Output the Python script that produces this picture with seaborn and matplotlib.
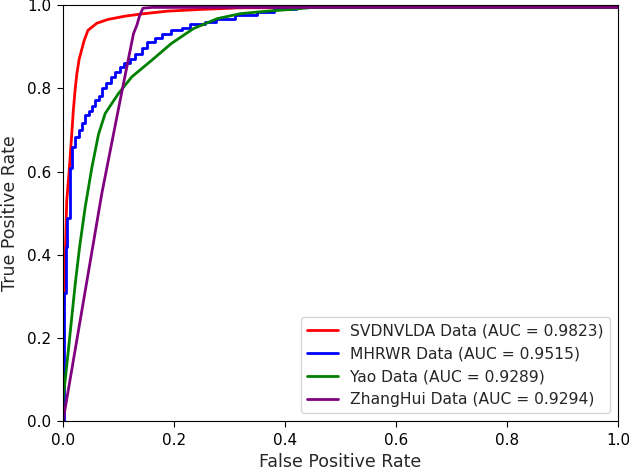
import pandas as pd
import matplotlib
matplotlib.use("Agg")
import matplotlib.pyplot as plt
import seaborn as sns

# --- ROC curve points ---
svd_fpr = [0, 0, 0.0036, 0.0045, 0.0067, 0.011, 0.0157, 0.0186, 0.022, 0.025, 0.029,
           0.038, 0.045, 0.061, 0.081, 0.112, 0.14, 0.188, 0.247, 0.32, 0.5, 1.0]
svd_tpr = [0, 0.235, 0.33, 0.42, 0.53, 0.60, 0.69, 0.748, 0.80, 0.836, 0.87,
           0.915, 0.94, 0.957, 0.966, 0.974, 0.979, 0.986, 0.99, 0.994, 0.995, 0.995]

mhrwr_fpr = [0, 0.002, 0.002, 0.0045, 0.0045, 0.0067, 0.0067, 0.0126, 0.0126, 0.0157, 0.0157,
             0.022, 0.022, 0.028, 0.028, 0.034, 0.034, 0.040, 0.040, 0.046, 0.046, 0.052, 0.052,
             0.058, 0.058, 0.064, 0.064, 0.070, 0.070, 0.078, 0.078, 0.086, 0.086, 0.094, 0.094,
             0.102, 0.102, 0.110, 0.110, 0.120, 0.120, 0.130, 0.130, 0.142, 0.142, 0.152, 0.152,
             0.165, 0.165, 0.178, 0.178, 0.195, 0.195, 0.215, 0.215, 0.228, 0.228, 0.255, 0.255,
             0.275, 0.275, 0.31, 0.31, 0.35, 0.35, 0.38, 0.38, 0.42, 0.42, 1.0]
mhrwr_tpr = [0, 0, 0.308, 0.308, 0.419, 0.419, 0.488, 0.488, 0.608, 0.608, 0.66,
             0.66, 0.683, 0.683, 0.700, 0.700, 0.716, 0.716, 0.735, 0.735, 0.745, 0.745, 0.758,
             0.758, 0.772, 0.772, 0.782, 0.782, 0.800, 0.800, 0.812, 0.812, 0.828, 0.828, 0.840,
             0.840, 0.852, 0.852, 0.862, 0.862, 0.872, 0.872, 0.884, 0.884, 0.898, 0.898, 0.912,
             0.912, 0.922, 0.922, 0.932, 0.932, 0.940, 0.940, 0.946, 0.946, 0.954, 0.954, 0.960,
             0.960, 0.968, 0.968, 0.976, 0.976, 0.984, 0.984, 0.990, 0.990, 0.995, 0.995]

yao_fpr = [0, 0, 0.0096, 0.022, 0.030, 0.040, 0.052, 0.064, 0.076, 0.100, 0.124,
           0.160, 0.195, 0.235, 0.278, 0.320, 0.368, 0.410, 0.45, 1.0]
yao_tpr = [0, 0.05, 0.17, 0.33, 0.42, 0.515, 0.61, 0.69, 0.74, 0.788, 0.828,
           0.868, 0.908, 0.944, 0.968, 0.980, 0.986, 0.990, 0.995, 0.995]

zh_fpr = [0, 0.070, 0.103, 0.127, 0.133, 0.138, 0.144, 0.16, 1.0]
zh_tpr = [0, 0.548, 0.772, 0.932, 0.952, 0.975, 0.993, 0.995, 0.995]

labels = ["SVDNVLDA Data (AUC = 0.9823)", "MHRWR Data (AUC = 0.9515)",
          "Yao Data (AUC = 0.9289)", "ZhangHui Data (AUC = 0.9294)"]
colors = ["red", "blue", "green", "purple"]

# --- Build long-form table ---
frames = []
for lab, fpr, tpr in zip(labels, [svd_fpr, mhrwr_fpr, yao_fpr, zh_fpr],
                         [svd_tpr, mhrwr_tpr, yao_tpr, zh_tpr]):
    frames.append(pd.DataFrame({"fpr": fpr, "tpr": tpr, "model": lab}))
df = pd.concat(frames, ignore_index=True)

sns.set_style("ticks")
plt.rcParams["font.family"] = ["DejaVu Sans"]

fig = plt.figure(figsize=(6.29, 4.71), dpi=100)
ax = fig.add_axes([0.1002, 0.1062, 0.8823, 0.8825])

sns.lineplot(data=df, x="fpr", y="tpr", hue="model", palette=dict(zip(labels, colors)),
             sort=False, estimator=None, units="model", linewidth=2, ax=ax)

ax.set_xlim(0, 1)
ax.set_ylim(0, 1)
ax.set_xticks([0, 0.2, 0.4, 0.6, 0.8, 1.0])
ax.set_yticks([0, 0.2, 0.4, 0.6, 0.8, 1.0])
ax.set_xlabel("False Positive Rate", fontsize=12.5, labelpad=4)
ax.set_ylabel("True Positive Rate", fontsize=12.5, labelpad=6)
ax.tick_params(labelsize=11, colors="black", length=4.5, pad=4)
for s in ax.spines.values():
    s.set_color("black")
sns.move_legend(ax, "lower right", title=None, fontsize=11.2)

fig.savefig("out.png", dpi=100)
